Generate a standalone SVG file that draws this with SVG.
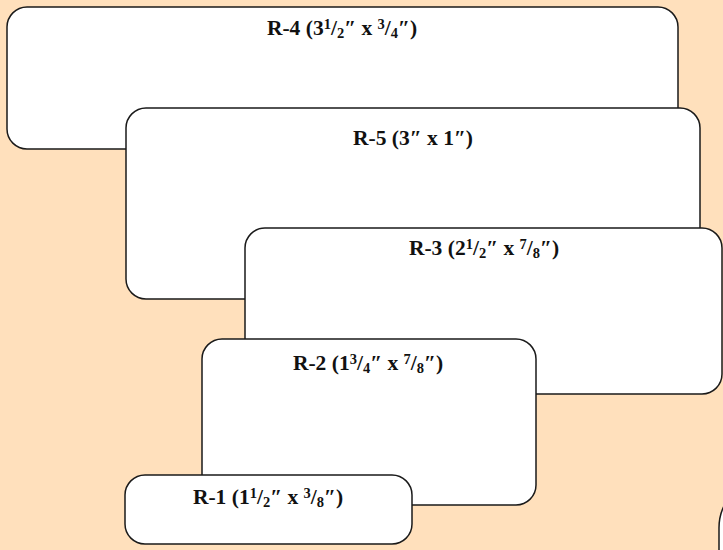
<svg xmlns="http://www.w3.org/2000/svg" width="723" height="550" viewBox="0 0 723 550">
<style>
.box{fill:#ffffff;stroke:#1a1a1a;stroke-width:1.5}
.lbl{font-family:"Liberation Serif","Times New Roman",serif;font-weight:bold;font-size:21.5px;fill:#111;text-anchor:middle}
.s{font-size:14.5px}
</style>
<rect x="0" y="0" width="723" height="550" fill="#ffe0bc"/>
<g id="r4">
<rect class="box" x="7" y="7" width="671" height="142" rx="20" ry="20"/>
<text class="lbl" x="342" y="35">R-4 (3<tspan class="s" dy="-6">1</tspan><tspan dy="6">/</tspan><tspan class="s" dy="3">2</tspan><tspan dy="-3">″ x </tspan><tspan class="s" dy="-6">3</tspan><tspan dy="6">/</tspan><tspan class="s" dy="3">4</tspan><tspan dy="-3">″)</tspan></text>
</g>
<g id="r5">
<rect class="box" x="126" y="108" width="574" height="191" rx="20" ry="20"/>
<text class="lbl" x="413" y="145">R-5 (3″ x 1″)</text>
</g>
<g id="r3">
<rect class="box" x="245" y="228" width="477" height="166" rx="20" ry="20"/>
<text class="lbl" x="484" y="255">R-3 (2<tspan class="s" dy="-6">1</tspan><tspan dy="6">/</tspan><tspan class="s" dy="3">2</tspan><tspan dy="-3">″ x </tspan><tspan class="s" dy="-6">7</tspan><tspan dy="6">/</tspan><tspan class="s" dy="3">8</tspan><tspan dy="-3">″)</tspan></text>
</g>
<g id="r2">
<rect class="box" x="202" y="339" width="334" height="166" rx="20" ry="20"/>
<text class="lbl" x="368" y="370">R-2 (1<tspan class="s" dy="-6">3</tspan><tspan dy="6">/</tspan><tspan class="s" dy="3">4</tspan><tspan dy="-3">″ x </tspan><tspan class="s" dy="-6">7</tspan><tspan dy="6">/</tspan><tspan class="s" dy="3">8</tspan><tspan dy="-3">″)</tspan></text>
</g>
<g id="r1">
<rect class="box" x="125" y="475" width="287" height="69" rx="20" ry="20"/>
<text class="lbl" x="268" y="504">R-1 (1<tspan class="s" dy="-6">1</tspan><tspan dy="6">/</tspan><tspan class="s" dy="3">2</tspan><tspan dy="-3">″ x </tspan><tspan class="s" dy="-6">3</tspan><tspan dy="6">/</tspan><tspan class="s" dy="3">8</tspan><tspan dy="-3">″)</tspan></text>
</g>
<g id="r6">
<rect class="box" x="719" y="478" width="140" height="140" rx="50" ry="50"/>
</g>
<g id="connectors"/>
</svg>
